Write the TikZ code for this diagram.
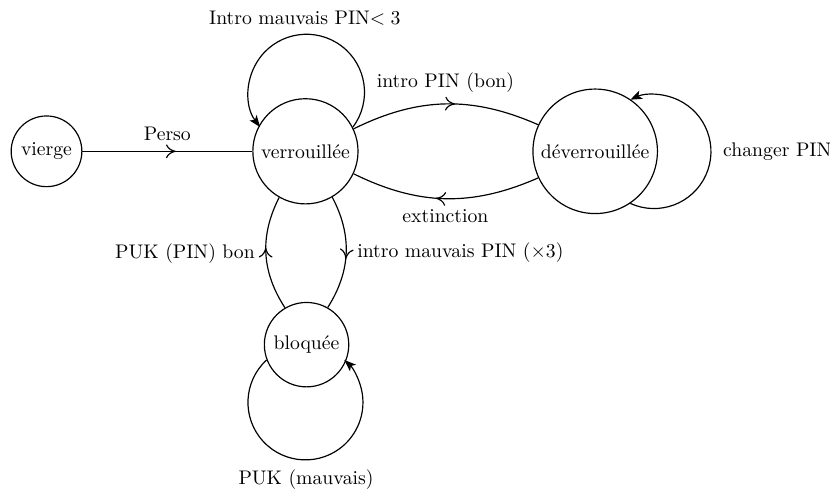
\documentclass[tikz,border=0pt]{standalone}
\usepackage{amsmath}
\usepackage{amssymb}
\usetikzlibrary{arrows.meta,decorations.markings}

\tikzset{
    statenode/.style={draw, circle, semithick},
    midarrow/.style={semithick, postaction={decorate},
        decoration={markings, mark=at position 0.55 with {\arrow{To[length=5pt,width=7pt]}}}},
    looparrow/.style={semithick, -{Stealth[length=6pt,width=4.5pt,inset=1.5pt]}}
}

\begin{document}
\begin{tikzpicture}

    % Frame
    \useasboundingbox (0,0) rectangle (14.81,-8.78);

    %%%% States
    \node[statenode] (vierge) at (0.83,-2.7) {vierge};
    \node[statenode] (verr) at (5.45,-2.7) {verrouillée};
    \node[statenode] (deverr) at (10.62,-2.7) {déverrouillée};
    \node[statenode] (bloq) at (5.47,-6.15) {bloquée};

    %%%% Transitions
    \draw[midarrow] (vierge) -- node[above=2pt] {Perso} (verr);

    % Unlock / lock
    \draw[midarrow] (verr) to[bend left=25] node[above=2pt] {intro PIN (bon)} (deverr);
    \draw[midarrow] (deverr) to[bend left=25] node[below=2pt] {extinction} (verr);

    % Blocking
    \draw[midarrow] (verr) to[bend left=30] node[right=2pt] {intro mauvais PIN ($\times3$)} (bloq);
    \draw[midarrow] (bloq) to[bend left=30] node[left=2pt] {PUK (PIN) bon} (verr);

    %%%% Loops
    \draw[looparrow] (verr.27) arc[start angle=-37, end angle=217, radius=1.035cm];
    \node (lverr) at (5.44,-0.33) {Intro mauvais PIN$<3$};

    \draw[looparrow] (deverr.-56) arc[start angle=-114.5, end angle=114.5, radius=1.017cm];
    \node[anchor=west] (ldeverr) at (12.78,-2.71) {changer PIN};

    \draw[looparrow] (bloq.201) arc[start angle=132.5, end angle=407.5, radius=1.026cm];
    \node (lbloq) at (5.46,-8.56) {PUK (mauvais)};

\end{tikzpicture}
\end{document}
